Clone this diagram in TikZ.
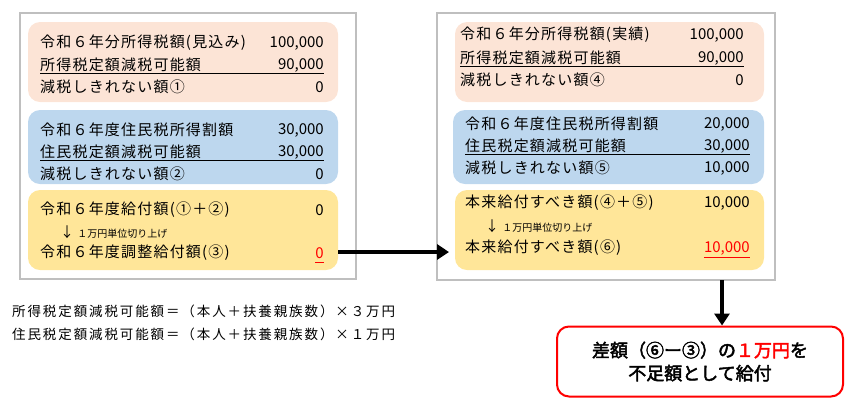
\documentclass[tikz,border=0pt]{standalone}
\usepackage{fontspec}
\setmainfont{Noto Sans CJK JP}[AutoFakeBold=2.5]
\newfontfamily\wide{Noto Sans CJK JP}[LetterSpace=8]
\newfontfamily\widefoot{Noto Sans CJK JP}[LetterSpace=14]
\usetikzlibrary{arrows.meta}
\definecolor{pinkbg}{HTML}{FCE4D6}
\definecolor{bluebg}{HTML}{BDD7EE}
\definecolor{yelbg}{HTML}{FFE699}
\definecolor{outer}{HTML}{BFBFBF}
\tikzset{
 outerbox/.style={draw=outer,line width=2.5pt},
 panel/.style={rounded corners=12pt,draw=none},
 lbl/.style={anchor=west,inner sep=0pt,font=\wide\fontsize{15}{17}\selectfont},
 num/.style={anchor=east,inner sep=0pt,font=\fontsize{15}{17}\selectfont},
 small/.style={anchor=west,inner sep=0pt,font=\fontsize{10}{11}\selectfont},
 foot/.style={anchor=west,inner sep=0pt,font=\widefoot\fontsize{13.5}{15}\selectfont},
 conn/.style={line width=3.5pt,-{Triangle[length=12pt,width=15pt]}},
}
\begin{document}
\begin{tikzpicture}[x=1pt,y=-1pt]
\useasboundingbox (0,0) rectangle (851,408);
% left
\draw[outerbox] (20,13) rectangle (356,279);
\fill[panel,pinkbg] (28,22) rectangle (338,102);
\fill[panel,bluebg] (28,110) rectangle (338,184);
\fill[panel,yelbg] (28,190) rectangle (338,270);
\node[lbl] (a1) at (40,43) {令和６年分所得税額(見込み)};
\node[num] (n1) at (324,43) {100,000};
\node[lbl] (a2) at (40,65) {所得税定額減税可能額};
\node[num] (n2) at (324,65) {90,000};
\draw[thin] (40,73) -- (324,73);
\node[lbl] (a3) at (40,87) {減税しきれない額①};
\node[num] (n3) at (324,87) {0};
\node[lbl] (b1) at (40,130) {令和６年度住民税所得割額};
\node[num] (m1) at (324,130) {30,000};
\node[lbl] (b2) at (40,152) {住民税定額減税可能額};
\node[num] (m2) at (324,152) {30,000};
\draw[thin] (40,160) -- (324,160);
\node[lbl] (b3) at (40,174) {減税しきれない額②};
\node[num] (m3) at (324,174) {0};
\node[lbl] (c1) at (40,210) {令和６年度給付額(①＋②)};
\node[num] (k1) at (324,210) {0};
\node[small] (c2) at (60,232) {\fontsize{14}{15}\selectfont↓\ \fontsize{10}{11}\selectfont １万円単位切り上げ};
\node[lbl] (c3) at (40,253) {令和６年度調整給付額(③)};
\node[num,text=red] (k3) at (324,253) {0};
\draw[red] (315,262) -- (324,262);
% right
\draw[outerbox] (437,13) rectangle (775,280);
\fill[panel,pinkbg] (455,22) rectangle (764,102);
\fill[panel,bluebg] (453,110) rectangle (764,184);
\fill[panel,yelbg] (455,190) rectangle (764,270);
\node[lbl] (d1) at (460,35) {令和６年分所得税額(実績)};
\node[num] (p1) at (744,35) {100,000};
\node[lbl] (d2) at (460,58) {所得税定額減税可能額};
\node[num] (p2) at (744,58) {90,000};
\draw[thin] (460,66) -- (744,66);
\node[lbl] (d3) at (460,80) {減税しきれない額④};
\node[num] (p3) at (744,80) {0};
\node[lbl] (e1) at (465,124) {令和６年度住民税所得割額};
\node[num] (q1) at (750,124) {20,000};
\node[lbl] (e2) at (465,146) {住民税定額減税可能額};
\node[num] (q2) at (750,146) {30,000};
\draw[thin] (465,154) -- (750,154);
\node[lbl] (e3) at (465,168) {減税しきれない額⑤};
\node[num] (q3) at (750,168) {10,000};
\node[lbl] (f1) at (465,203) {本来給付すべき額(④＋⑤)};
\node[num] (r1) at (750,203) {10,000};
\node[small] (f2) at (485,226) {\fontsize{14}{15}\selectfont↓\ \fontsize{10}{11}\selectfont １万円単位切り上げ};
\node[lbl] (f3) at (465,248) {本来給付すべき額(⑥)};
\node[num,text=red] (r3) at (750,248) {10,000};
\draw[red] (r3.west |- 0,257) -- (750,257);
% footnotes
\node[foot] (g1) at (12,311) {所得税定額減税可能額＝（本人＋扶養親族数）×３万円};
\node[foot] (g2) at (12,334) {住民税定額減税可能額＝（本人＋扶養親族数）×１万円};
% result box
\node[draw=red,line width=2pt,rounded corners=12pt,minimum width=286pt,minimum height=70pt,align=center,font=\bfseries\fontsize{18}{23}\selectfont] (res) at (700,361.5) {差額（⑥ー③）の\textcolor{red}{１万円}を\\不足額として給付};
\coordinate (la) at (338,252);
\coordinate (ra) at (449,252);
\draw[conn] (la) -- (ra);
\coordinate (dt) at (722,280);
\draw[conn] (dt) -- (dt |- res.north);
\end{tikzpicture}
\end{document}
